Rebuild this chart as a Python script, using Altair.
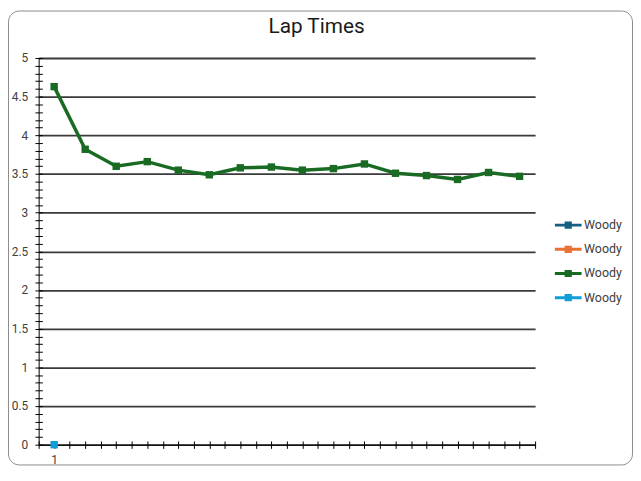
import altair as alt
import pandas as pd

# ---- data ----
series_names = ["Woody 1", "Woody 2", "Woody 3", "Woody 4"]
series_colors = ["#156082", "#E97132", "#196B24", "#0F9ED5"]

laps = list(range(1, 17))
woody3_times = [4.63, 3.82, 3.60, 3.66, 3.55, 3.49, 3.58, 3.59,
                3.55, 3.57, 3.63, 3.51, 3.48, 3.43, 3.52, 3.47]
woody4_laps = [1]
woody4_times = [0.0]

y_label_values = [0, 0.5, 1, 1.5, 2, 2.5, 3, 3.5, 4, 4.5, 5]
y_tick_values = [round(i * 0.1, 1) for i in range(51)]
x_label_values = [1]
x_tick_values = [0.5 + 0.5 * i for i in range(33)]

line_df = pd.DataFrame({"lap": laps, "time": woody3_times, "series": series_names[2]})
pts_df = pd.concat([
    line_df,
    pd.DataFrame({"lap": woody4_laps, "time": woody4_times, "series": series_names[3]}),
], ignore_index=True)

FONT = "Roboto"
LABEL_COLOR = "#404040"

xs = alt.Scale(domain=[0.5, 16.5], nice=False, zero=False)
ys = alt.Scale(domain=[0, 5], nice=False)
cs = alt.Scale(domain=series_names, range=series_colors)
line_cs = alt.Scale(domain=[series_names[2]], range=[series_colors[2]])

main_x = alt.Axis(orient="bottom", values=x_label_values, title=None, ticks=False, grid=False,
                  domainColor="black", domainWidth=1, labelFont=FONT, labelFontSize=12,
                  labelColor=LABEL_COLOR, labelPadding=10)
main_y = alt.Axis(orient="left", values=y_label_values, title=None, ticks=False, grid=True,
                  gridColor="#3a3a3a", gridWidth=1.8, domainColor="black", domainWidth=1,
                  labelFont=FONT, labelFontSize=12, labelColor=LABEL_COLOR, labelPadding=11,
                  format="~g")
tick_x = alt.Axis(orient="bottom", values=x_tick_values, title=None, labels=False, domain=False,
                  grid=False, ticks=True, tickSize=7.5, tickColor="black", tickWidth=1,
                  offset=-3.75)
tick_y = alt.Axis(orient="left", values=y_tick_values, title=None, labels=False, domain=False,
                  grid=False, ticks=True, tickSize=7.5, tickColor="black", tickWidth=1,
                  offset=-3.75)

symbol_path = ("M-1,-0.11L1,-0.11L1,0.11L-1,0.11Z "
               "M-0.27,-0.27L0.27,-0.27L0.27,0.27L-0.27,0.27Z")

legend = alt.Legend(orient="none", legendX=522, legendY=155.5, title=None,
                    symbolType=symbol_path, symbolSize=729, symbolStrokeWidth=0,
                    symbolOpacity=1, labelExpr="'Woody'", labelFont=FONT, labelFontSize=12.5,
                    labelColor=LABEL_COLOR, labelOffset=2.5, rowPadding=4.45, padding=0)

# svg is 632 x 460 so that the page never scrolls
border = alt.Chart(alt.Data(values=[{"b": 1}])).mark_rect(
    fill="transparent", stroke="#8c8c8c", strokeWidth=1, cornerRadius=11
).encode(x=alt.value(-30.5), x2=alt.value(600.5), y=alt.value(-47.5), y2=alt.value(411.5))

line = alt.Chart(line_df).mark_line(strokeWidth=3.5).encode(
    x=alt.X("lap:Q", scale=xs, axis=main_x),
    y=alt.Y("time:Q", scale=ys, axis=main_y),
    stroke=alt.Stroke("series:N", scale=line_cs, legend=None),
)

points = alt.Chart(pts_df).mark_point(shape="square", filled=True, size=56, opacity=1).encode(
    x=alt.X("lap:Q", scale=xs, axis=None),
    y=alt.Y("time:Q", scale=ys, axis=None),
    fill=alt.Fill("series:N", scale=cs, legend=legend),
)

ticks = alt.Chart(pts_df).mark_point(opacity=0).encode(
    x=alt.X("lap:Q", scale=xs, axis=tick_x),
    y=alt.Y("time:Q", scale=ys, axis=tick_y),
)

chart = alt.layer(border, line, points, ticks).resolve_axis(
    x="independent", y="independent"
).properties(
    width=502, height=391,
    padding={"left": 31, "top": 48, "right": 99, "bottom": 21},
    autosize=alt.AutoSizeParams(type="none"),
    title=alt.TitleParams("Lap Times", font=FONT, fontSize=21, fontWeight="normal",
                          color="#1a1a1a", anchor="middle", baseline="alphabetic",
                          offset=0, dx=30, dy=44),
).configure_view(stroke=None)

chart.save("out.html", embed_options={"renderer": "svg", "actions": False})
